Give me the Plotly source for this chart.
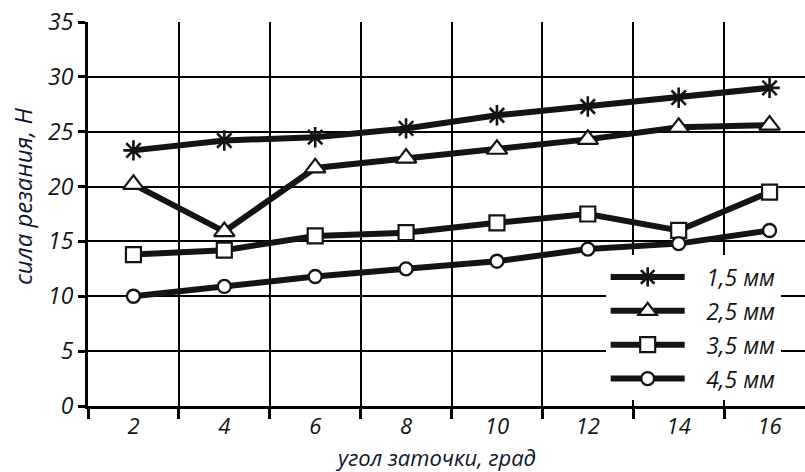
import plotly.graph_objects as go

# Sharpening angle, degrees
angles = [2, 4, 6, 8, 10, 12, 14, 16]

# Cutting force, N, for each cut depth
force_15 = [23.3, 24.2, 24.5, 25.3, 26.5, 27.3, 28.1, 29.0]
force_25 = [20.2, 15.9, 21.7, 22.6, 23.4, 24.3, 25.4, 25.6]
force_35 = [13.8, 14.2, 15.5, 15.8, 16.7, 17.5, 16.0, 19.5]
force_45 = [10.0, 10.9, 11.8, 12.5, 13.2, 14.3, 14.8, 16.0]

series_names = ["1,5 мм", "2,5 мм", "3,5 мм", "4,5 мм"]
y_ticks = [0, 5, 10, 15, 20, 25, 30, 35]

FONT = "Open Sans"
INK = "#141414"
TITLE_INK = "#101830"

fig = go.Figure()

styles = [
    dict(symbol="asterisk-open", size=17, color=INK, line=dict(color=INK, width=2.6)),
    dict(symbol="triangle-up", size=18, color="white", line=dict(color=INK, width=2.2)),
    dict(symbol="square", size=15, color="white", line=dict(color=INK, width=2.2)),
    dict(symbol="circle", size=13, color="white", line=dict(color=INK, width=2.4)),
]

# figure space + thin space: keeps a gap between legend symbol and label
LEGEND_PAD = "\u2007\u2009"

for i, (name, vals, mk) in enumerate(
    zip(series_names, [force_15, force_25, force_35, force_45], styles)
):
    fig.add_trace(go.Scatter(
        x=angles, y=vals, name=LEGEND_PAD + name, mode="lines+markers",
        line=dict(color=INK, width=6),
        marker=mk,
        legendgroup=f"g{i}",
        cliponaxis=False,
    ))

# Helper trace so the label axis is drawn
fig.add_trace(go.Scatter(x=angles, y=[None] * len(angles), xaxis="x2",
                         showlegend=False, hoverinfo="skip"))

grid_pos = list(range(1, 17, 2))

L, T, B = 88, 22, 66
plot_w = 805 - L
plot_h = 472 - T - B

fig.update_layout(
    width=805, height=472,
    margin=dict(l=L, r=0, t=T, b=B),
    paper_bgcolor="white", plot_bgcolor="white",
    font=dict(family=FONT, color=INK, style="italic"),
    showlegend=True,
    legend=dict(
        x=0.722, y=0.392, xanchor="left", yanchor="top",
        bgcolor="white", borderwidth=0,
        font=dict(family=FONT, size=23, color=INK, style="italic"),
        itemwidth=74, traceorder="grouped", tracegroupgap=1,
    ),
    xaxis=dict(
        range=[1.0, 16.78], tickvals=grid_pos, ticktext=[""] * len(grid_pos),
        showgrid=True, gridcolor="black", gridwidth=2,
        showline=True, linecolor="black", linewidth=3,
        ticks="outside", ticklen=10, tickwidth=3, tickcolor="black",
        zeroline=False,
    ),
    xaxis2=dict(
        overlaying="x", matches="x", side="bottom", anchor="y",
        tickvals=angles, ticktext=[str(a) for a in angles],
        showgrid=False, showline=False, zeroline=False,
        ticks="outside", ticklen=1, tickcolor="rgba(0,0,0,0)",
        tickfont=dict(family=FONT, size=22, color=INK, style="italic"),
    ),
    yaxis=dict(
        range=[0, 35], tickvals=y_ticks,
        showgrid=True, gridcolor="black", gridwidth=2,
        showline=True, linecolor="black", linewidth=3,
        ticks="outside", ticklen=7, tickwidth=3, tickcolor="black",
        tickfont=dict(family=FONT, size=23, color=INK, style="italic"),
        zeroline=False,
    ),
    annotations=[
        dict(text="сила резания, Н",
             x=(22 - L) / plot_w, y=(406 - 197) / plot_h,
             xref="paper", yref="paper", xanchor="center", yanchor="middle",
             showarrow=False, textangle=-90,
             font=dict(family=FONT, size=24, color=TITLE_INK, style="italic")),
        dict(text="угол заточки, град",
             x=(435 - L) / plot_w, y=(406 - 457) / plot_h,
             xref="paper", yref="paper", xanchor="center", yanchor="middle",
             showarrow=False,
             font=dict(family=FONT, size=22, color=TITLE_INK, style="italic")),
    ],
)

fig.write_html("out.html")
